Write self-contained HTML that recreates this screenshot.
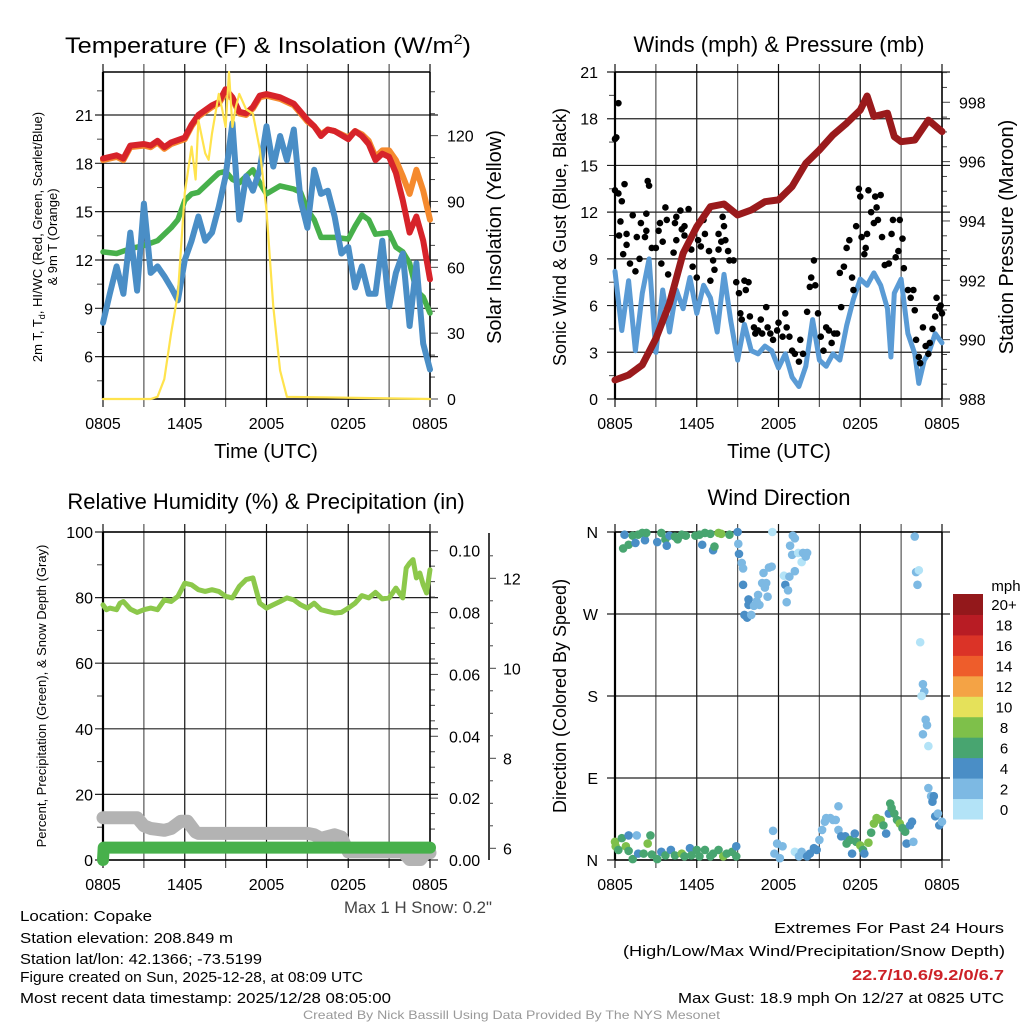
<!DOCTYPE html>
<html><head><meta charset="utf-8"><style>
html,body{margin:0;padding:0;background:#fff;}
svg{display:block;font-family:"Liberation Sans",Arial,sans-serif;}
</style></head><body>
<svg id="root" width="1024" height="1024" viewBox="0 0 1024 1024" xmlns="http://www.w3.org/2000/svg">
<rect width="1024" height="1024" fill="#fff"/>
<g id="layer"></g>
<g font-size="22" fill="#000" text-anchor="middle">
<text x="268" y="53" textLength="406" lengthAdjust="spacingAndGlyphs">Temperature (F) &amp; Insolation (W/m<tspan font-size="14" dy="-9">2</tspan><tspan dy="9">)</tspan></text>
<text x="779" y="52">Winds (mph) &amp; Pressure (mb)</text>
<text x="266" y="509">Relative Humidity (%) &amp; Precipitation (in)</text>
<text x="779" y="505">Wind Direction</text>
</g>
<g font-size="15" fill="#000">
<text x="20" y="921" textLength="132" lengthAdjust="spacingAndGlyphs">Location: Copake</text>
<text x="20" y="943" textLength="213" lengthAdjust="spacingAndGlyphs">Station elevation: 208.849 m</text>
<text x="20" y="964" textLength="242" lengthAdjust="spacingAndGlyphs">Station lat/lon: 42.1366; -73.5199</text>
<text x="20" y="982" textLength="343" lengthAdjust="spacingAndGlyphs">Figure created on Sun, 2025-12-28, at 08:09 UTC</text>
<text x="20" y="1003" textLength="371" lengthAdjust="spacingAndGlyphs">Most recent data timestamp: 2025/12/28 08:05:00</text>
<text x="344" y="913" font-size="17" textLength="148" lengthAdjust="spacingAndGlyphs" fill="#444">Max 1 H Snow: 0.2"</text>
<text x="774" y="933" textLength="230" lengthAdjust="spacingAndGlyphs">Extremes For Past 24 Hours</text>
<text x="623" y="956" textLength="382" lengthAdjust="spacingAndGlyphs">(High/Low/Max Wind/Precipitation/Snow Depth)</text>
<text x="852" y="980" textLength="152" lengthAdjust="spacingAndGlyphs" fill="#cc2127" font-weight="bold">22.7/10.6/9.2/0/6.7</text>
<text x="678" y="1003" textLength="326" lengthAdjust="spacingAndGlyphs">Max Gust: 18.9 mph On 12/27 at 0825 UTC</text>
<text x="303" y="1019" font-size="12" fill="#999" textLength="417" lengthAdjust="spacingAndGlyphs">Created By Nick Bassill Using Data Provided By The NYS Mesonet</text>
</g>
</svg>
<script>
// ---------- data ----------
const hoursTemp = [0,1,1.5,2,3,3.5,4,4.5,5,6,6.5,7,8,8.5,9,9.5,10,10.5,11,11.5,12,13,14,15,15.5,16,16.5,17,18,18.5,19,19.5,20,20.5,21,21.5,22,22.5,23,23.5,24];
const tempRed = [18.3,18.5,18.3,19.1,19.2,19.1,19.4,19.0,19.3,19.6,20.4,21.0,21.6,21.8,22.6,22.1,21.2,21.1,21.5,22.2,22.3,22.1,21.7,20.7,20.3,19.7,20.1,20.0,19.5,20.0,19.7,19.2,18.2,18.6,18.4,17.4,15.7,13.7,14.7,13.2,10.8];
const temp9mOrange = [18.2,18.4,18.2,19.0,19.1,19.0,19.3,18.9,19.2,19.5,20.3,20.9,21.5,21.7,22.4,22.0,21.1,21.0,21.4,22.1,22.2,22.0,21.6,20.6,20.3,19.8,20.1,20.0,19.6,20.0,19.8,19.4,18.4,18.8,18.8,18.2,17.2,16.1,17.6,16.3,14.5];
const hoursDew = [0,1,2,3,4,4.5,5,5.5,6,6.5,7,8,8.5,9,9.5,10,11,11.5,12,13,14,14.5,15,15.5,16,17,18,18.5,19,19.5,20,21,21.5,22,22.5,23,23.5,24];
const dewGreen = [12.5,12.4,12.7,12.9,13.2,13.6,14.0,14.5,15.7,16.1,16.2,17.0,17.4,17.5,17.0,16.8,17.6,16.8,16.1,16.6,16.4,16.2,15.1,14.5,13.4,13.4,13.3,14.1,14.8,14.5,13.6,13.7,12.8,12.5,11.8,10.1,9.7,8.7];
const hoursWC = [0,0.5,1,1.5,2,2.5,3,3.5,4,4.5,5,5.5,6,6.5,7,7.5,8,8.5,9,9.5,10,10.5,11,11.5,12,12.5,13,13.5,14,14.5,15,15.5,16,16.5,17,17.5,18,18.5,19,19.5,20,20.5,21,21.5,22,22.5,23,23.5,24];
const windChillBlue = [8.1,9.9,11.6,9.9,13.7,10.1,15.5,11.2,11.6,11.0,10.3,9.5,12.0,13.2,14.7,13.2,13.7,15.3,17.2,20.5,14.5,17.2,16.3,17.6,20.3,17.8,19.7,18.2,20.1,15.7,14.0,17.6,16.1,16.3,14.7,12.4,12.8,10.3,11.6,9.9,9.9,13.2,9.1,11.2,12.4,7.9,11.8,6.8,5.2];
const hoursSolar = [0,3.5,4,4.5,5,5.5,6,6.5,6.8,7,7.5,7.75,8,8.5,8.75,9,9.25,9.5,9.75,10,10.5,11,11.5,12,12.5,13,13.5,24];
const solarYellow = [0,0,1,9,30,48,94,115,100,127,112,109,121,139,132,124,149,124,133,139,132,130,114,86,42,13,1,0];

const hoursPres = [0,1,2,3,4,5,6,7,8,9,10,11,12,13,14,15,16,17,18,18.5,19,20,20.5,21,22,23,24];
const pressureMaroon = [988.64,988.81,989.15,990.04,991.22,992.91,993.81,994.48,994.57,994.2,994.37,994.65,994.71,995.16,995.94,996.39,996.9,997.29,997.74,998.21,997.52,997.63,996.84,996.67,996.73,997.4,997.01];
const hoursWind = [0,0.5,1,1.5,2,2.5,3,3.5,4,4.5,5,5.5,6,6.5,7,7.5,8,8.5,9,9.5,10,10.5,11,11.5,12,12.5,13,13.5,14,14.5,15,15.5,16,16.5,17,17.5,18,18.5,19,19.5,20,20.25,20.5,21,21.5,22,22.3,22.7,23,23.5,24];
const windBlue = [8.2,4.4,7.6,3.1,6.8,9.0,3.0,7.0,4.3,7.0,5.8,7.8,5.5,7.3,6.5,4.3,8.0,5.0,2.5,4.8,3.1,2.9,3.4,3.1,2.0,2.9,1.4,0.8,2.1,5.1,2.5,2.1,2.9,2.5,4.7,6.4,7.7,7.3,8.1,7.3,5.8,2.7,6.8,7.7,4.2,2.9,1.0,2.5,2.9,4.2,3.6];
const gustHours = [0,0.1,0.25,0,0.25,0.5,0.4,0.3,0.7,0.6,0.85,0.85,1.1,1.3,1.5,1.6,1.8,1.9,2.2,2.3,2.4,2.5,2.3,2.7,3.0,3.2,3.3,3.4,3.5,3.7,3.8,3.9,4.3,4.4,4.5,4.5,4.8,4.9,5.1,5.1,5.4,5.6,5.7,6.0,6.1,6.3,6.5,6.6,6.9,7.0,7.2,7.3,7.6,7.6,7.8,7.9,8.0,8.1,8.3,8.4,8.7,8.9,9.1,9.2,9.3,9.5,9.6,9.8,9.9,10.2,10.3,10.5,10.7,10.8,11.1,11.2,11.4,11.6,11.9,12.0,12.3,12.5,12.6,12.8,13.0,13.2,13.5,13.6,13.8,14.1,14.3,14.4,14.6,14.7,14.9,15.1,15.3,15.5,15.7,15.9,16.1,16.3,16.5,16.6,16.8,17.0,17.2,17.4,17.5,17.7,17.9,18.0,18.1,18.3,18.4,18.5,18.6,18.8,19.0,19.1,19.2,19.3,19.5,19.6,19.8,20.1,20.3,20.4,20.6,20.8,20.9,21.1,21.2,21.5,21.7,21.9,22.0,22.1,22.3,22.4,22.6,22.8,23.0,23.1,23.3,23.5,23.6,23.8,23.9,24.0];
const gustBlack = [16.7,16.8,19.0,13.4,13.2,12.7,11.4,10.5,13.8,9.3,9.9,10.6,8.7,11.8,8.2,10.4,9.0,11.3,10.4,11.9,14.0,13.7,10.8,9.7,9.7,10.8,11.3,8.7,10.1,12.3,11.5,8.0,9.4,11.3,11.7,10.2,12.1,10.9,11.1,10.5,12.2,9.6,8.5,7.8,10.2,9.8,11.5,10.6,9.5,7.6,8.9,8.3,10.6,9.6,10.1,11.7,11.1,10.2,9.5,8.9,8.9,7.5,6.8,5.5,5.1,7.6,7.0,7.5,5.3,4.6,4.2,4.4,5.1,4.2,5.9,4.6,4.2,3.8,4.4,4.9,4.0,5.5,4.6,4.0,3.1,2.9,2.4,3.8,2.9,5.6,7.2,7.8,8.9,7.3,5.5,4.0,3.1,4.6,4.4,3.6,4.2,4.2,8.1,5.9,8.5,9.7,10.2,7.8,7.0,11.1,13.5,13.0,10.4,9.3,9.7,10.6,13.4,12.0,11.3,13.0,12.3,11.5,13.1,10.4,8.6,8.7,10.6,11.5,9.1,9.5,11.5,10.3,8.4,7.0,6.5,7.0,5.7,3.8,2.7,2.3,4.6,3.4,2.9,3.6,4.5,5.3,6.5,5.8,6.0,5.5];

const hoursRH = [0,0.25,0.5,1,1.25,1.5,2,2.5,3,3.5,4,4.5,5,5.5,6,6.5,7,7.5,8,8.5,9,9.5,10,10.5,11,11.5,12,12.5,13,13.5,14,14.5,15,15.5,16,16.5,17,17.5,18,18.5,19,19.5,20,20.5,21,21.5,22,22.25,22.5,22.75,23,23.25,23.5,23.75,24];
const rhGreen = [77.8,76.3,76.8,76.3,78.3,78.8,76.5,75.5,76.3,76.8,76.3,79.3,78.8,80.4,84.4,83.9,82.4,81.9,82.4,81.9,80.4,79.9,83.4,85.5,86.0,78.3,76.8,77.8,78.8,79.9,79.3,77.8,76.8,78.3,76.3,75.8,75.3,75.5,76.8,78.3,80.6,79.9,81.6,79.6,79.9,82.9,79.9,89.0,90.5,91.6,86.0,87.5,83.9,81.4,88.5];
const hoursSnow = [0,2.5,3,3.5,4.5,5,5.7,6.2,6.8,7,15,15.5,16,17,17.5,18,22,22.5,23.3,23.7,24];
const snowGray = [6.68,6.68,6.5,6.44,6.4,6.44,6.6,6.6,6.36,6.33,6.33,6.3,6.22,6.3,6.25,5.92,5.92,5.75,5.75,5.9,5.9];
const hoursPrecip = [0,0.05,24];
const precipGreen = [0,0.004,0.004];

const dirHours = [0.7,0.6,1.0,1.3,1.5,1.7,2.0,2.2,2.3,3.1,3.4,3.7,3.8,4.0,4.4,4.6,4.9,5.2,5.9,6.2,6.4,6.6,7.0,7.2,7.3,7.6,7.8,8.4,9.0,
9.05,9.1,9.3,9.4,9.4,9.5,9.7,9.8,9.8,10.0,10.2,10.4,10.5,10.6,10.8,10.9,11.0,11.1,11.2,11.3,11.5,11.55,
12.4,12.5,12.6,12.7,12.8,12.85,13.0,13.05,13.2,13.2,13.45,13.7,13.8,14.0,14.1,
22.0,22.1,22.3,22.2,22.4,22.6,22.7,22.5,22.8,22.9,22.6,23.0,23.0,23.2,23.3,23.4,23.5,23.7,23.8,24.0,
0,0.05,0.25,0.5,0.8,1.0,1.0,1.3,1.6,1.7,2.1,2.4,2.6,2.7,3.1,3.4,3.7,4.1,4.4,4.9,5.1,5.5,5.6,6.0,6.2,6.6,7.0,7.2,7.6,7.95,8.2,8.6,8.9,8.9,
11.6,11.7,11.9,12.1,12.3,13.2,13.5,13.7,14.1,14.3,14.6,14.8,15.0,15.2,15.4,15.5,15.8,16.0,16.2,16.4,16.4,16.6,16.9,17.0,17.25,17.4,17.6,17.7,18.0,18.2,18.3,18.6,18.8,19.0,19.2,19.5,19.7,19.9,20.1,20.2,20.3,20.5,20.7,20.9,21.1,21.3,21.4,21.65,21.8,21.9];
const dirDegrees = [357,342,346,356,348,357,359,351,359,349,359,352,345,356,355,352,357,356,356,357,346,359,358,340,344,359,358,357,360,
347,336,326,320,302,269,266,280,286,269,279,284,291,280,304,315,299,304,289,321,322,360,
312,302,283,296,311,345,335,356,353,317,337,327,337,333,337,
355,316,318,302,239,193,185,180,154,148,138,125,79,70,64,70,48,51,38,42,
20,15,11,24,15,27,10,1,27,7,7,18,27,6,1,9,5,11,5,7,4,13,5,11,4,11,4,7,11,4,7,9,4,15,
32,7,18,2,15,9,4,9,4,7,13,11,22,33,42,46,46,44,44,59,33,26,26,18,22,7,29,20,16,11,7,19,30,40,46,44,38,29,51,62,57,51,44,40,35,31,18,38,42,20];
const dirSpeeds = [5,7,7,7,5,7,7,5,7,5,7,7,5,5,7,7,7,7,7,7,5,7,7,5,7,9,9,7,5,
3,5,3,3,5,5,5,5,5,3,3,3,3,3,3,3,3,3,3,3,3,1,
1,5,3,3,3,3,3,3,3,3,1,1,3,3,3,
3,3,1,3,1,3,3,1,3,3,3,1,3,3,5,5,5,3,5,3,
9,9,7,7,9,5,7,7,3,5,7,9,7,7,7,5,7,5,7,9,7,5,7,7,7,7,7,7,7,9,7,7,7,5,
3,3,3,3,3,1,3,3,5,5,5,5,3,3,3,3,3,3,3,3,3,5,5,7,7,5,5,7,9,7,5,9,7,9,9,9,7,5,5,7,7,7,7,9,7,7,5,5,5,3];

const speedBins = ['0','2','4','6','8','10','12','14','16','18','20+'];
const binColors = ['#b3e3f7','#7db9e3','#4a8ec6','#48a570','#7ec04a','#e5e15a','#f4a345','#ee5d2b','#db3327','#b81c24','#93181b'];
const timeTicks = ['0805','1405','2005','0205','0805'];

// ---------- helpers ----------
const NS='http://www.w3.org/2000/svg';
const layer=document.getElementById('layer');
function mk(tag, attrs, parent){const e=document.createElementNS(NS,tag);for(const k in attrs)e.setAttribute(k,attrs[k]);(parent||layer).appendChild(e);return e;}
function lin(d0,d1,r0,r1){return v=>r0+(v-d0)/(d1-d0)*(r1-r0);}
function pathD(xs,ys,fx,fy){return xs.map((h,i)=>(i?'L':'M')+fx(h).toFixed(1)+','+fy(ys[i]).toFixed(1)).join('');}

function frame(P,name){
  const g=mk('g',{});
  
  
  for(let i=0;i<=8;i++){const x=P.x0+i*(P.x1-P.x0)/8;
    const l=mk('line',{x1:x,x2:x,y1:P.y0-8,y2:P.y1+8,stroke:i%2?'#555':'#111','stroke-width':1.2},g);
    
    }
  timeTicks.forEach((t,i)=>{const x=P.x0+i*(P.x1-P.x0)/4;
    const tx=mk('text',{x:x,y:P.y1+30,'font-size':16,'text-anchor':'middle'},g);tx.textContent=t;
    
    });
  return g;
}
function hgrid(g,P,y){mk('line',{x1:P.x0-8,x2:P.x1+8,y1:y,y2:y,stroke:'#222','stroke-width':1.2},g);}
function box(g,P){
  mk('line',{x1:P.x0,x2:P.x0,y1:P.y0,y2:P.y1,stroke:'#000','stroke-width':2.2},g);
  mk('line',{x1:P.x0,x2:P.x1,y1:P.y0,y2:P.y0,stroke:'#000','stroke-width':1.5},g);
  mk('line',{x1:P.x1,x2:P.x1,y1:P.y0,y2:P.y1,stroke:'#000','stroke-width':1.5},g);
  mk('line',{x1:P.x0,x2:P.x1,y1:P.y1,y2:P.y1,stroke:'#000','stroke-width':1.5},g);
}
function label(g,x,y,txt,anchor,size,name){const t=mk('text',{x:x,y:y,'font-size':size||16,'text-anchor':anchor||'end'},g);t.textContent=txt;
  
  return t;}
function vtitle(g,x,y,txt,size,name){const t=mk('text',{x:0,y:0,'font-size':size,'text-anchor':'middle',transform:`translate(${x},${y}) rotate(-90)`},g);t.textContent=txt;
  
  return t;}
function line(xs,ys,fx,fy,color,w,name){const p=mk('path',{d:pathD(xs,ys,fx,fy),fill:'none',stroke:color,'stroke-width':w,'stroke-linejoin':'round','stroke-linecap':'round'});
  
  return p;}

// ---------- Panel 1: temperature ----------
{
const P={x0:103,x1:430,y0:72,y1:399};
const fx=lin(0,24,P.x0,P.x1), fy=lin(3.37,23.67,P.y1,P.y0), fs=lin(0,149,P.y1,P.y0);
const g=frame(P,'temperature');
[6,9,12,15,18,21].forEach(v=>{hgrid(g,P,fy(v));label(g,93,fy(v)+6,String(v));});
for(let v=4.5;v<23.6;v+=3){mk('line',{x1:P.x0-6,x2:P.x0,y1:fy(v),y2:fy(v),stroke:'#444'},g);}
for(let s=0;s<=140;s+=10){mk('line',{x1:P.x1,x2:P.x1+(s%30?5:8),y1:fs(s),y2:fs(s),stroke:'#444'},g);}
[0,30,60,90,120].forEach(s=>label(g,447,fs(s)+6,String(s),'start'));
box(g,P);
const t1=vtitle(g,42,237,'',13,'left-axis-title-line1');
t1.innerHTML='2m T, T<tspan font-size="9" dy="3">d</tspan><tspan dy="-3">, HI/WC (Red, Green, Scarlet/Blue)</tspan>';
vtitle(g,57,237,'& 9m T (Orange)',13,'left-axis-title-line2');
vtitle(g,501,237,'Solar Insolation (Yellow)',20,'right-axis-title');
label(g,266,458,'Time (UTC)','middle',20,'x-axis-title');
line(hoursTemp,temp9mOrange,fx,fy,'#f58a2e',6,'temp-9m-orange-line');
line(hoursTemp,tempRed,fx,fy,'#d7232a',6,'temp-2m-red-line');
line(hoursDew,dewGreen,fx,fy,'#47b04b',5.5,'dewpoint-green-line');
line(hoursWC,windChillBlue,fx,fy,'#4a8ec6',6,'windchill-blue-line');
line(hoursSolar,solarYellow,fx,fs,'#ffe34d',2.2,'solar-yellow-line');
}
// ---------- Panel 2: winds ----------
{
const P={x0:615,x1:942,y0:72,y1:399};
const fx=lin(0,24,P.x0,P.x1), fy=lin(0,21,P.y1,P.y0), fp=lin(988,999.02,P.y1,P.y0);
const g=frame(P,'winds');
[0,3,6,9,12,15,18,21].forEach(v=>{hgrid(g,P,fy(v));label(g,598,fy(v)+6,String(v));});
for(let v=1.5;v<21;v+=3){mk('line',{x1:P.x0-6,x2:P.x0,y1:fy(v),y2:fy(v),stroke:'#444'},g);}
for(let p=988;p<=999;p+=0.5){mk('line',{x1:P.x1,x2:P.x1+(p%2?5:8),y1:fp(p),y2:fp(p),stroke:'#444'},g);}
[988,990,992,994,996,998].forEach(p=>label(g,959,fp(p)+6,String(p),'start'));
box(g,P);
vtitle(g,566,237,'Sonic Wind & Gust (Blue, Black)',18,'left-axis-title');
vtitle(g,1013,237,'Station Pressure (Maroon)',20,'right-axis-title');
label(g,779,458,'Time (UTC)','middle',20,'x-axis-title');
line(hoursWind,windBlue,fx,fy,'#5a9bd5',5,'sonic-wind-blue-line');
gustHours.forEach((h,i)=>{const c=mk('circle',{cx:fx(h),cy:fy(gustBlack[i]),r:3.3,fill:'#000'});
  
  });
line(hoursPres,pressureMaroon,fx,fp,'#9a1a1c',7,'pressure-maroon-line');
}
// ---------- Panel 3: RH ----------
{
const P={x0:103,x1:430,y0:532,y1:860};
const fx=lin(0,24,P.x0,P.x1), fy=lin(0,100,P.y1,P.y0), fpr=lin(0,0.1,860,550.7), fsn=lin(6,12,848.3,578.3);
const g=frame(P,'humidity');
[0,20,40,60,80,100].forEach(v=>{hgrid(g,P,fy(v));label(g,93,fy(v)+6,String(v));});
for(let v=10;v<100;v+=20){mk('line',{x1:P.x0-6,x2:P.x0,y1:fy(v),y2:fy(v),stroke:'#444'},g);}
for(let p=0;p<=0.105;p+=0.005){mk('line',{x1:P.x1,x2:P.x1+(Math.round(p*1000)%20?5:8),y1:fpr(p),y2:fpr(p),stroke:'#444'},g);}
['0.00','0.02','0.04','0.06','0.08','0.10'].forEach(s=>label(g,449,fpr(+s)+6,s,'start'));
mk('line',{x1:489,x2:489,y1:533,y2:860,stroke:'#000','stroke-width':1.5},g);
for(let s=6;s<=12.9;s+=0.5){mk('line',{x1:489,x2:489+(s%2?4:7),y1:fsn(s),y2:fsn(s),stroke:'#444'},g);}
[6,8,10,12].forEach(s=>label(g,503,fsn(s)+6,String(s),'start'));
box(g,P);
vtitle(g,46,696,'Percent, Precipitation (Green), & Snow Depth (Gray)',13,'left-axis-title');
line(hoursSnow,snowGray,fx,fsn,'#b3b3b3',13,'snow-depth-gray-line');
line(hoursPrecip,precipGreen,fx,fpr,'#47b04b',12,'precip-green-line');
line(hoursRH,rhGreen,fx,fy,'#8cc84b',5,'rh-green-line');
}
// ---------- Panel 4: wind direction ----------
{
const P={x0:615,x1:942,y0:532,y1:860};
const fx=lin(0,24,P.x0,P.x1), fy=lin(0,360,P.y1,P.y0);
const g=frame(P,'wind-direction');
[['N',0],['E',90],['S',180],['W',270],['N',360]].forEach(([t,d])=>{hgrid(g,P,fy(d));label(g,598,fy(d)+6,t);});
box(g,P);
vtitle(g,566,696,'Direction (Colored By Speed)',18,'left-axis-title');
dirHours.forEach((h,i)=>{const b=Math.min(10,Math.floor(dirSpeeds[i]/2));
  const c=mk('circle',{cx:fx(h),cy:fy(dirDegrees[i]),r:4.3,fill:binColors[b]});
  
  });
const cb=mk('g',{});


const top=594,h=(819-594)/11;
label(cb,1006,591,'mph','middle',15,'colorbar-title');
speedBins.forEach((s,i)=>{const y=top+(10-i)*h;
  const r=mk('rect',{x:953,y:y,width:30,height:h+0.5,fill:binColors[i]},cb);
  
  
  label(cb,1004,y+h/2+6,s,'middle',15,'colorbar-label');});
}
</script>
</body></html>
